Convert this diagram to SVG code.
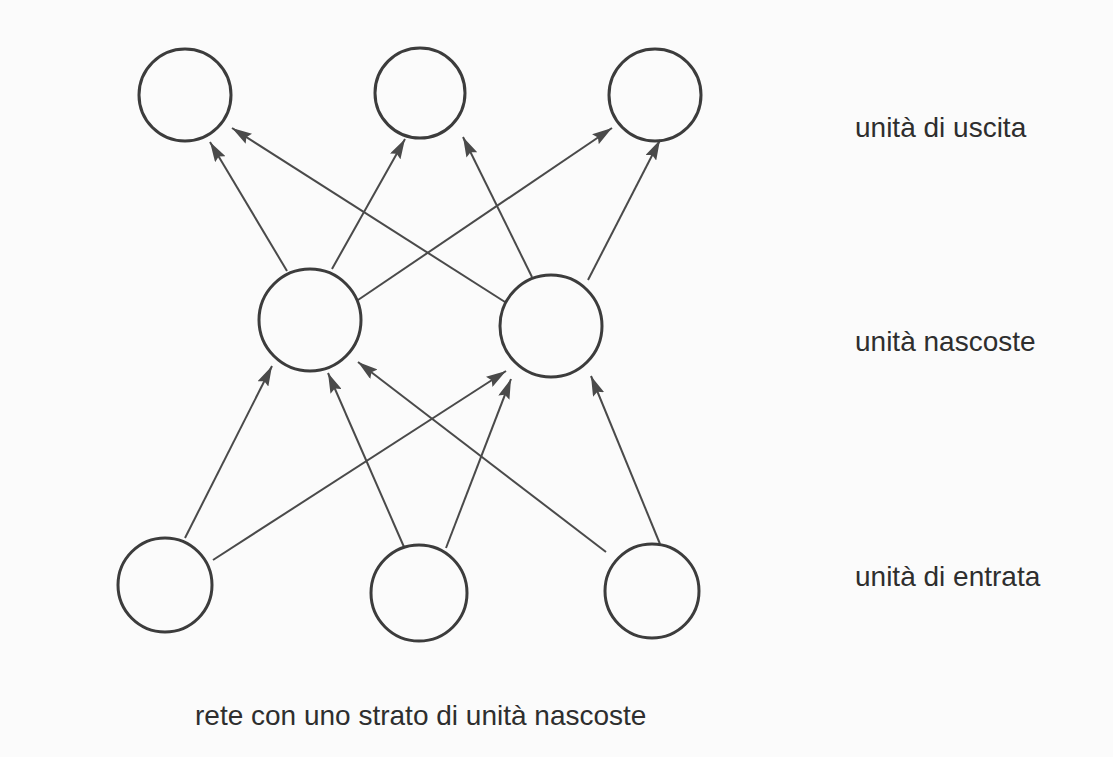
<svg xmlns="http://www.w3.org/2000/svg" width="1113" height="757" viewBox="0 0 1113 757">
<defs>
<style>
.node{fill:none;stroke:#3c3c3c;stroke-width:3}
.edge{fill:none;stroke:#4a4a4a;stroke-width:2;marker-end:url(#ah)}
.lbl{font-family:"Liberation Sans",Arial,sans-serif;font-size:28px;fill:#2e2e2e}
</style>
<marker id="ah" viewBox="0 0 20 12" refX="20" refY="6" markerWidth="20" markerHeight="12" markerUnits="userSpaceOnUse" orient="auto">
<path d="M0,0 L20,6 L0,12 L3,6 Z" fill="#4a4a4a"/>
</marker>
</defs>
<rect width="1113" height="757" fill="#fbfbfb"/>
<g id="connectors">
<line class="edge" x1="287" y1="271" x2="210" y2="142"/>
<line class="edge" x1="505" y1="302" x2="232" y2="128"/>
<line class="edge" x1="332" y1="269" x2="405" y2="139"/>
<line class="edge" x1="532" y1="277" x2="463" y2="137"/>
<line class="edge" x1="358" y1="300" x2="612" y2="128"/>
<line class="edge" x1="588" y1="280" x2="660" y2="140"/>
<line class="edge" x1="185" y1="538" x2="272" y2="366"/>
<line class="edge" x1="404" y1="547" x2="328" y2="373"/>
<line class="edge" x1="606" y1="552" x2="358" y2="362"/>
<line class="edge" x1="213" y1="560" x2="506" y2="371"/>
<line class="edge" x1="446" y1="548" x2="511" y2="379"/>
<line class="edge" x1="660" y1="544" x2="591" y2="376"/>
</g>
<g id="out1"><circle class="node" cx="185" cy="95" r="46"/></g>
<g id="out2"><circle class="node" cx="420" cy="93" r="45"/></g>
<g id="out3"><circle class="node" cx="655" cy="95" r="46"/></g>
<g id="hid1"><circle class="node" cx="310" cy="320" r="51"/></g>
<g id="hid2"><circle class="node" cx="551" cy="326" r="51"/></g>
<g id="in1"><circle class="node" cx="165" cy="585" r="47"/></g>
<g id="in2"><circle class="node" cx="419" cy="593" r="48"/></g>
<g id="in3"><circle class="node" cx="652" cy="591" r="47"/></g>
<g id="labels">
<text class="lbl" x="855" y="137">unità di uscita</text>
<text class="lbl" x="855" y="351">unità nascoste</text>
<text class="lbl" x="855" y="586">unità di entrata</text>
<text class="lbl" x="195" y="725">rete con uno strato di unità nascoste</text>
</g>
</svg>
